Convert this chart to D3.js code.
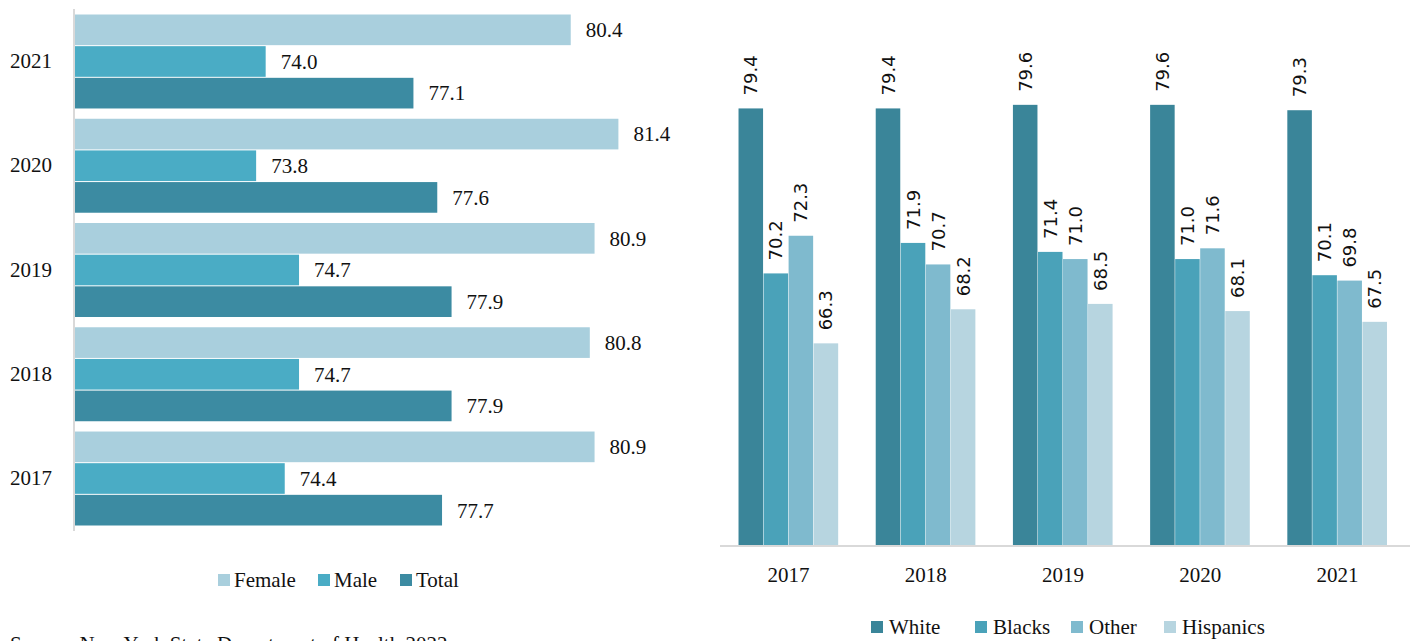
<!DOCTYPE html>
<html><head><meta charset="utf-8">
<script src="https://cdn.jsdelivr.net/npm/d3@7"></script>
<style>body{margin:0;background:#fff}svg{display:block}</style>
</head><body>
<svg id="c" width="1416" height="641"></svg>
<script>
const years = ["2021","2020","2019","2018","2017"];
const sexSeries = ["Female","Male","Total"];
const female = [80.4, 81.4, 80.9, 80.8, 80.9];
const male   = [74.0, 73.8, 74.7, 74.7, 74.4];
const total  = [77.1, 77.6, 77.9, 77.9, 77.7];
const sexColors = ["#A9CFDD","#4AACC5","#3C8BA2"];

const raceYears = ["2017","2018","2019","2020","2021"];
const raceSeries = ["White","Blacks","Other","Hispanics"];
const white     = [79.4, 79.4, 79.6, 79.6, 79.3];
const blacks    = [70.2, 71.9, 71.4, 71.0, 70.1];
const other     = [72.3, 70.7, 71.0, 71.6, 69.8];
const hispanics = [66.3, 68.2, 68.5, 68.1, 67.5];
const raceColors = ["#3A8599","#4AA2B9","#7FBACE","#B7D5E0"];
const sourceText = "Source: New York State Department of Health 2022";

const svg = d3.select("#c");
const serif = "'Liberation Serif', 'DejaVu Serif', serif";
const sans = "'DejaVu Sans', sans-serif";
const fs = 21;

// ---------- Left chart ----------
const sexData = [female, male, total];
const yL = d3.scaleBand().domain(years).range([14, 526]).paddingInner(0.089).paddingOuter(0);
const ySub = d3.scaleBand().domain(sexSeries).range([0, yL.bandwidth()]);
const xL = d3.scaleLinear().domain([70, 82]).range([75, 647]);

const gL = svg.append("g");
years.forEach((yr, i) => {
  sexSeries.forEach((s, j) => {
    const v = sexData[j][i];
    const y = yL(yr) + ySub(s);
    gL.append("rect").attr("x", xL(70)).attr("y", y + 0.5)
      .attr("width", xL(v) - xL(70)).attr("height", ySub.bandwidth() - 1)
      .attr("fill", sexColors[j]);
    gL.append("text").attr("x", xL(v) + 15).attr("y", y + ySub.bandwidth()/2)
      .attr("dy", "0.35em").attr("font-family", serif).attr("font-size", fs)
      .attr("fill", "#111").text(v.toFixed(1));
  });
});
const axL = svg.append("g").attr("transform", "translate(74,0)")
  .call(d3.axisLeft(yL).tickSize(0).tickPadding(22));
axL.select(".domain").attr("stroke", "#D9D9D9").attr("stroke-width", 2).attr("d", "M0,9V531");
axL.selectAll("text").attr("font-family", serif).attr("font-size", fs).attr("fill", "#111");

// left legend
const legL = svg.append("g");
const legLx = [218, 318, 400];
sexSeries.forEach((s, j) => {
  legL.append("rect").attr("x", legLx[j]).attr("y", 574).attr("width", 12).attr("height", 12).attr("fill", sexColors[j]);
  legL.append("text").attr("x", legLx[j] + 16).attr("y", 587).attr("font-family", serif)
    .attr("font-size", fs).attr("fill", "#111").text(s);
});

// ---------- Right chart ----------
const raceData = [white, blacks, other, hispanics];
const xR = d3.scaleBand().domain(raceYears).range([720, 1406]).paddingInner(0.27).paddingOuter(0.135);
const xSub = d3.scaleBand().domain(raceSeries).range([0, xR.bandwidth()]);
const yR = d3.scaleLinear().domain([55, 85]).range([546, 8]);

const gR = svg.append("g");
raceYears.forEach((yr, i) => {
  raceSeries.forEach((s, j) => {
    const v = raceData[j][i];
    const x = xR(yr) + xSub(s);
    gR.append("rect").attr("x", x).attr("y", yR(v))
      .attr("width", xSub.bandwidth() - 0.5).attr("height", yR(55) - yR(v))
      .attr("fill", raceColors[j]);
    const cx = x + xSub.bandwidth()/2;
    const cy = yR(v) - 13;
    gR.append("text").attr("transform", `translate(${cx},${cy}) rotate(-90)`)
      .attr("dy", "0.35em").attr("font-family", sans).attr("font-size", 18)
      .attr("fill", "#111").text(v.toFixed(1));
  });
});
const axR = svg.append("g").attr("transform", "translate(0,546)")
  .call(d3.axisBottom(xR).tickSize(0).tickPadding(21));
axR.select(".domain").attr("stroke", "#D9D9D9").attr("stroke-width", 2).attr("d", "M720,0H1410");
axR.selectAll("text").attr("font-family", serif).attr("font-size", fs).attr("fill", "#111");

// right legend
const legR = svg.append("g");
const legRx = [871, 975, 1071, 1164];
raceSeries.forEach((s, j) => {
  legR.append("rect").attr("x", legRx[j]).attr("y", 621).attr("width", 12).attr("height", 12).attr("fill", raceColors[j]);
  legR.append("text").attr("x", legRx[j] + 18).attr("y", 634).attr("font-family", serif)
    .attr("font-size", fs).attr("fill", "#111").text(s);
});

// source
svg.append("text").attr("x", 10).attr("y", 651).attr("font-family", serif)
  .attr("font-size", fs).attr("fill", "#111").text(sourceText);
</script>
</body></html>
